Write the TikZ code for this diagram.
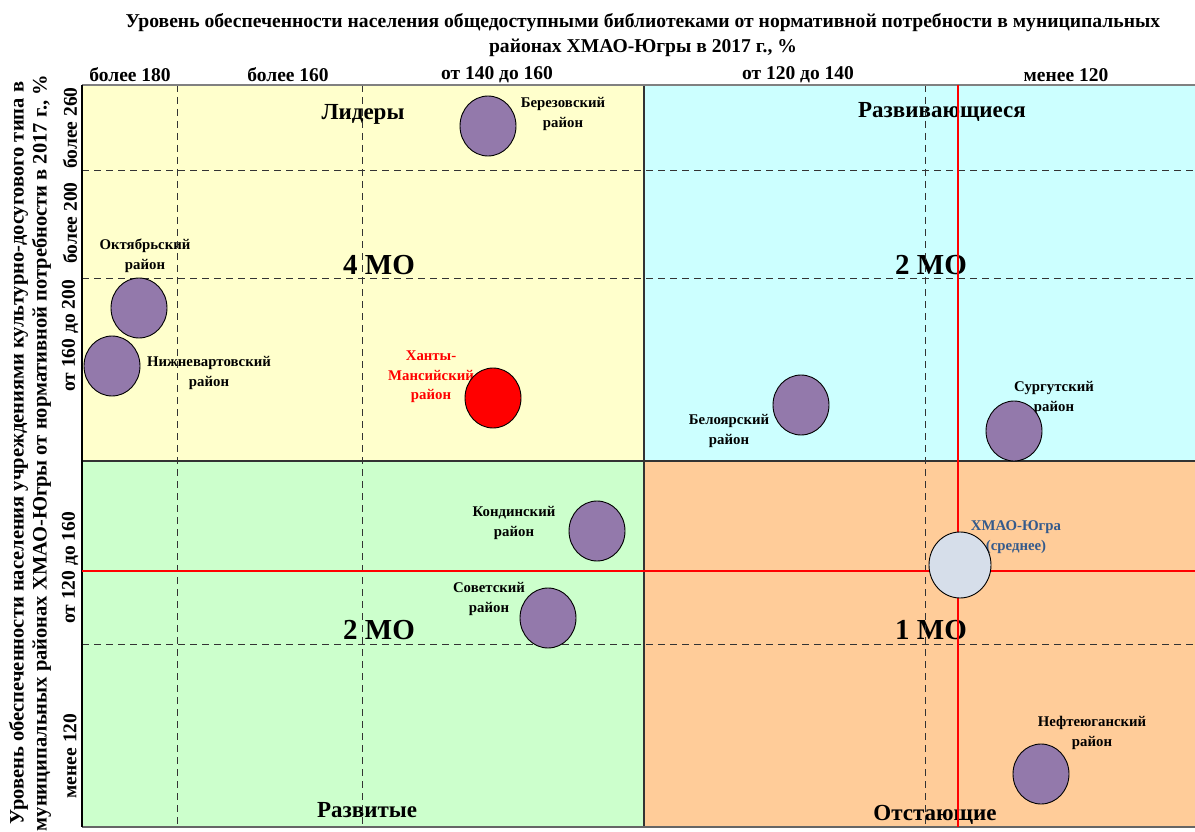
\documentclass[tikz,border=0pt]{standalone}
\usepackage{fontspec}
\setmainfont{Liberation Serif}
\usetikzlibrary{shapes.geometric}
\definecolor{qyellow}{RGB}{255,255,204}
\definecolor{qcyan}{RGB}{204,255,255}
\definecolor{qgreen}{RGB}{204,255,204}
\definecolor{qorange}{RGB}{255,204,153}
\definecolor{bubble}{RGB}{147,121,171}
\definecolor{avgfill}{RGB}{214,222,234}
\definecolor{avgtext}{RGB}{52,90,140}
\definecolor{gridline}{RGB}{51,51,51}
\tikzset{
  bub/.style={ellipse,draw=black,line width=0.9pt,fill=bubble,minimum width=56pt,minimum height=60pt,inner sep=0pt},
  blabel/.style={font=\bfseries\fontsize{14.8}{19.5}\selectfont,align=center,inner sep=0pt},
  qname/.style={font=\bfseries\fontsize{23}{26}\selectfont,inner sep=0pt},
  qcount/.style={font=\bfseries\fontsize{29}{32}\selectfont,inner sep=0pt},
  axlab/.style={font=\bfseries\fontsize{19.5}{22}\selectfont,inner sep=0pt},
  toptitle/.style={font=\bfseries\fontsize{19.6}{24.5}\selectfont,align=center,inner sep=0pt},
  sidetitle/.style={font=\bfseries\fontsize{20.5}{23}\selectfont,align=center,inner sep=0pt},
  dashgrid/.style={draw=gridline,line width=1pt,dash pattern=on 7pt off 5pt},
  solidgrid/.style={draw=gridline,line width=1.2pt},
  redline/.style={draw=red,line width=1.6pt},
}
\begin{document}
\begin{tikzpicture}[x=1pt,y={(0pt,-1pt)}]
\useasboundingbox (0,0) rectangle (1195,832);
\fill[white] (0,0) rectangle (1195,832);
% quadrants
\fill[qyellow] (82,85) rectangle (644,461);
\fill[qcyan] (644,85) rectangle (1195,461);
\fill[qgreen] (82,461) rectangle (644,827);
\fill[qorange] (644,461) rectangle (1195,827);
% title
\node[toptitle] (title) at (643,35) {Уровень обеспеченности населения общедоступными библиотеками от нормативной потребности в муниципальных\\районах ХМАО-Югры в 2017 г., \%};
% top axis labels
\node[axlab] (t1) at (130,75) {более 180};
\node[axlab] (t2) at (288,75) {более 160};
\node[axlab] (t3) at (497,75) {от 140 до 160};
\node[axlab] (t4) at (798,75) {от 120 до 140};
\node[axlab] (t5) at (1066,75) {менее 120};
% left axis labels
\node[axlab,rotate=90] (l1) at (70,128) {более 260};
\node[axlab,rotate=90] (l2) at (70,223) {более 200};
\node[axlab,rotate=90] (l3) at (70,336) {от 160 до 200};
\node[axlab,rotate=90] (l4) at (70,568) {от 120 до 160};
\node[axlab,rotate=90] (l5) at (70,756) {менее 120};
% left title
\node[sidetitle,rotate=90] (ytitle) at (30,453) {Уровень обеспеченности населения учреждениями культурно-досугового типа в\\муниципальных районах ХМАО-Югры от нормативной потребности в 2017 г., \%};
% quadrant names and counts
\node[qname] (q1) at (363,114) {Лидеры};
\node[qname] (q2) at (942,112) {Развивающиеся};
\node[qname] (q3) at (367,810) {Развитые};
\node[qname] (q4) at (935,815) {Отстающие};
\node[qcount] (c1) at (379,265) {4 МО};
\node[qcount] (c2) at (931,265) {2 МО};
\node[qcount] (c3) at (379,630) {2 МО};
\node[qcount] (c4) at (931,630) {1 МО};
% bubble labels
\node[blabel] (lb1) at (563,114) {Березовский\\район};
\node[blabel] (lb2) at (145,256) {Октябрьский\\район};
\node[blabel] (lb3) at (209,373) {Нижневартовский\\район};
\node[blabel,text=red] (lb4) at (431,377) {Ханты-\\Мансийский\\район};
\node[blabel] (lb5) at (729,431) {Белоярский\\район};
\node[blabel] (lb6) at (1054,398) {Сургутский\\район};
\node[blabel] (lb7) at (514,523) {Кондинский\\район};
\node[blabel] (lb8) at (489,599) {Советский\\район};
\node[blabel,text=avgtext] (lb9) at (1016,537) {ХМАО-Югра\\(среднее)};
\node[blabel] (lb10) at (1092,733) {Нефтеюганский\\район};
% dashed grid
\coordinate (dv1t) at (177,85); \coordinate (dv1b) at (177,827);
\coordinate (dv2t) at (362,85); \coordinate (dv2b) at (362,827);
\coordinate (dv3t) at (925,85); \coordinate (dv3b) at (925,827);
\coordinate (dh1l) at (82,171); \coordinate (dh1r) at (1195,171);
\coordinate (dh2l) at (82,278); \coordinate (dh2r) at (1195,278);
\coordinate (dh3l) at (82,644); \coordinate (dh3r) at (1195,644);
\draw[dashgrid] (dv1t) -- (dv1b);
\draw[dashgrid] (dv2t) -- (dv2b);
\draw[dashgrid] (dv3t) -- (dv3b);
\draw[dashgrid] (dh1l) -- (dh1r);
\draw[dashgrid] (dh2l) -- (dh2r);
\draw[dashgrid] (dh3l) -- (dh3r);
% solid quadrant lines
\coordinate (svt) at (644,85); \coordinate (svb) at (644,827);
\coordinate (shl) at (82,461); \coordinate (shr) at (1195,461);
\draw[solidgrid] (svt) -- (svb);
\draw[solidgrid] (shl) -- (shr);
% frame
\coordinate (frtl) at (82,85); \coordinate (frtr) at (1195,85);
\coordinate (frbl) at (82,827); \coordinate (frbr) at (1195,827);
\draw[draw=gray,line width=1.8pt] (frtl) -- (frtr);
\draw[draw=gray!80!black,line width=2pt] (frbl) -- (frbr);
\draw[draw=black,line width=1.2pt] (frtl) -- (frbl);
% red average lines
\coordinate (rvt) at (958,85); \coordinate (rvb) at (958,827);
\coordinate (rhl) at (82,571); \coordinate (rhr) at (1195,571);
\draw[redline] (rvt) -- (rvb);
\draw[redline] (rhl) -- (rhr);
% bubbles
\node[bub] (berez) at (488,126) {};
\node[bub] (oktyab) at (139,308) {};
\node[bub] (nizhn) at (112,366) {};
\node[bub,fill=red] (khm) at (493,398) {};
\node[bub] (beloyar) at (801,405) {};
\node[bub] (surgut) at (1014,431) {};
\node[bub] (kondin) at (597,531) {};
\node[bub] (sovet) at (548,618) {};
\node[bub,fill=avgfill,minimum width=62pt,minimum height=66pt] (avg) at (960,565) {};
\node[bub] (nefte) at (1041,774) {};
\end{tikzpicture}
\end{document}
